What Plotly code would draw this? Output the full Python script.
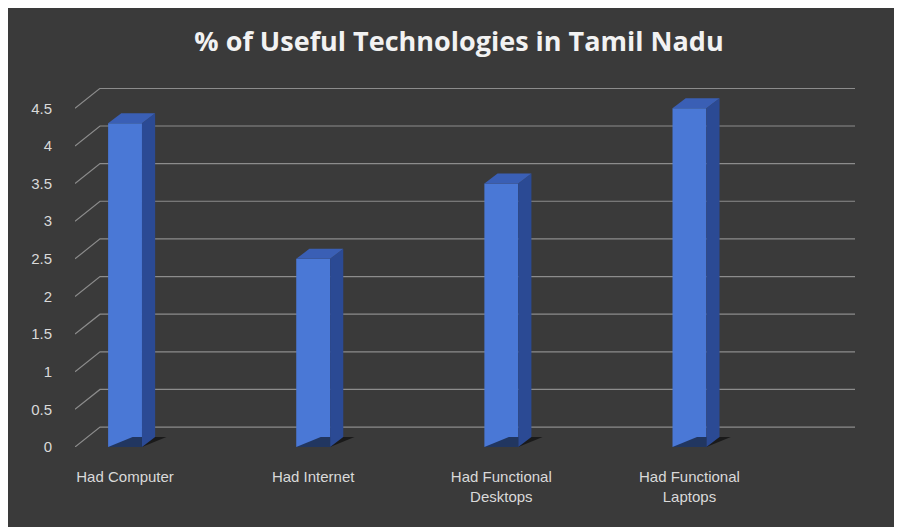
import plotly.graph_objects as go

categories = ["Had Computer", "Had Internet", "Had Functional<br>Desktops", "Had Functional<br>Laptops"]
values = [4.3, 2.5, 3.5, 4.5]
ticks = [0, 0.5, 1, 1.5, 2, 2.5, 3, 3.5, 4, 4.5]

xs = list(range(len(categories)))
bw = 0.18
bdx, bdy = 0.07, 0.133
wdx, wdy = 0.133, 0.265
xmin, xmax = -0.266, 3.88

fig = go.Figure()
shapes = []
for t in ticks:
    shapes.append(dict(type="path", xref="x", yref="y",
        path=f"M {xmin},{t} L {xmin+wdx},{t+wdy} L {xmax},{t+wdy}",
        line=dict(color="#8c8c8c", width=1.2), layer="below"))

for x, v in zip(xs, values):
    l, r = x - bw/2, x + bw/2
    fig.add_trace(go.Scatter(x=[l, r, r+bdx+0.06, l+bdx+0.06, l], y=[0, 0, bdy, bdy, 0],
        fill="toself", fillcolor="rgba(0,0,0,0.55)", line=dict(width=0), mode="lines",
        hoverinfo="skip", showlegend=False))
    fig.add_trace(go.Scatter(x=[r, r+bdx, r+bdx, r, r], y=[0, bdy, v+bdy, v, 0],
        fill="toself", fillcolor="#2b4a94", line=dict(width=0), mode="lines",
        hoverinfo="skip", showlegend=False))
    fig.add_trace(go.Scatter(x=[l, r, r+bdx, l+bdx, l], y=[v, v, v+bdy, v+bdy, v],
        fill="toself", fillcolor="#3a5fb5", line=dict(width=0), mode="lines",
        hoverinfo="skip", showlegend=False))

fig.add_trace(go.Bar(x=xs, y=values, width=bw, marker=dict(color="#4a78d6", line=dict(width=0)),
    showlegend=False))

fig.update_layout(
    width=902, height=527,
    paper_bgcolor="#3a3a3a", plot_bgcolor="rgba(0,0,0,0)",
    margin=dict(l=67, r=55, t=80, b=88),
    title=dict(text="<b>% of Useful Technologies in Tamil Nadu</b>", x=0.5, y=0.955,
               xanchor="center", font=dict(family="Open Sans", size=27, color="#f2f2f2")),
    font=dict(family="Liberation Sans", color="#d9d9d9", size=15),
    shapes=shapes,
    xaxis=dict(range=[xmin, xmax], tickvals=xs, ticktext=categories, showgrid=False,
               zeroline=False, showline=False, ticks="outside", ticklen=16, tickcolor="rgba(0,0,0,0)",
               tickfont=dict(size=15, color="#d9d9d9")),
    yaxis=dict(range=[0, 4.77], tickvals=ticks, ticktext=[f"{t:g}" for t in ticks],
               showgrid=False, zeroline=False, ticks="", ticklabelstandoff=22,
               tickfont=dict(size=15, color="#d9d9d9")),
)
fig.write_html("out.html")
